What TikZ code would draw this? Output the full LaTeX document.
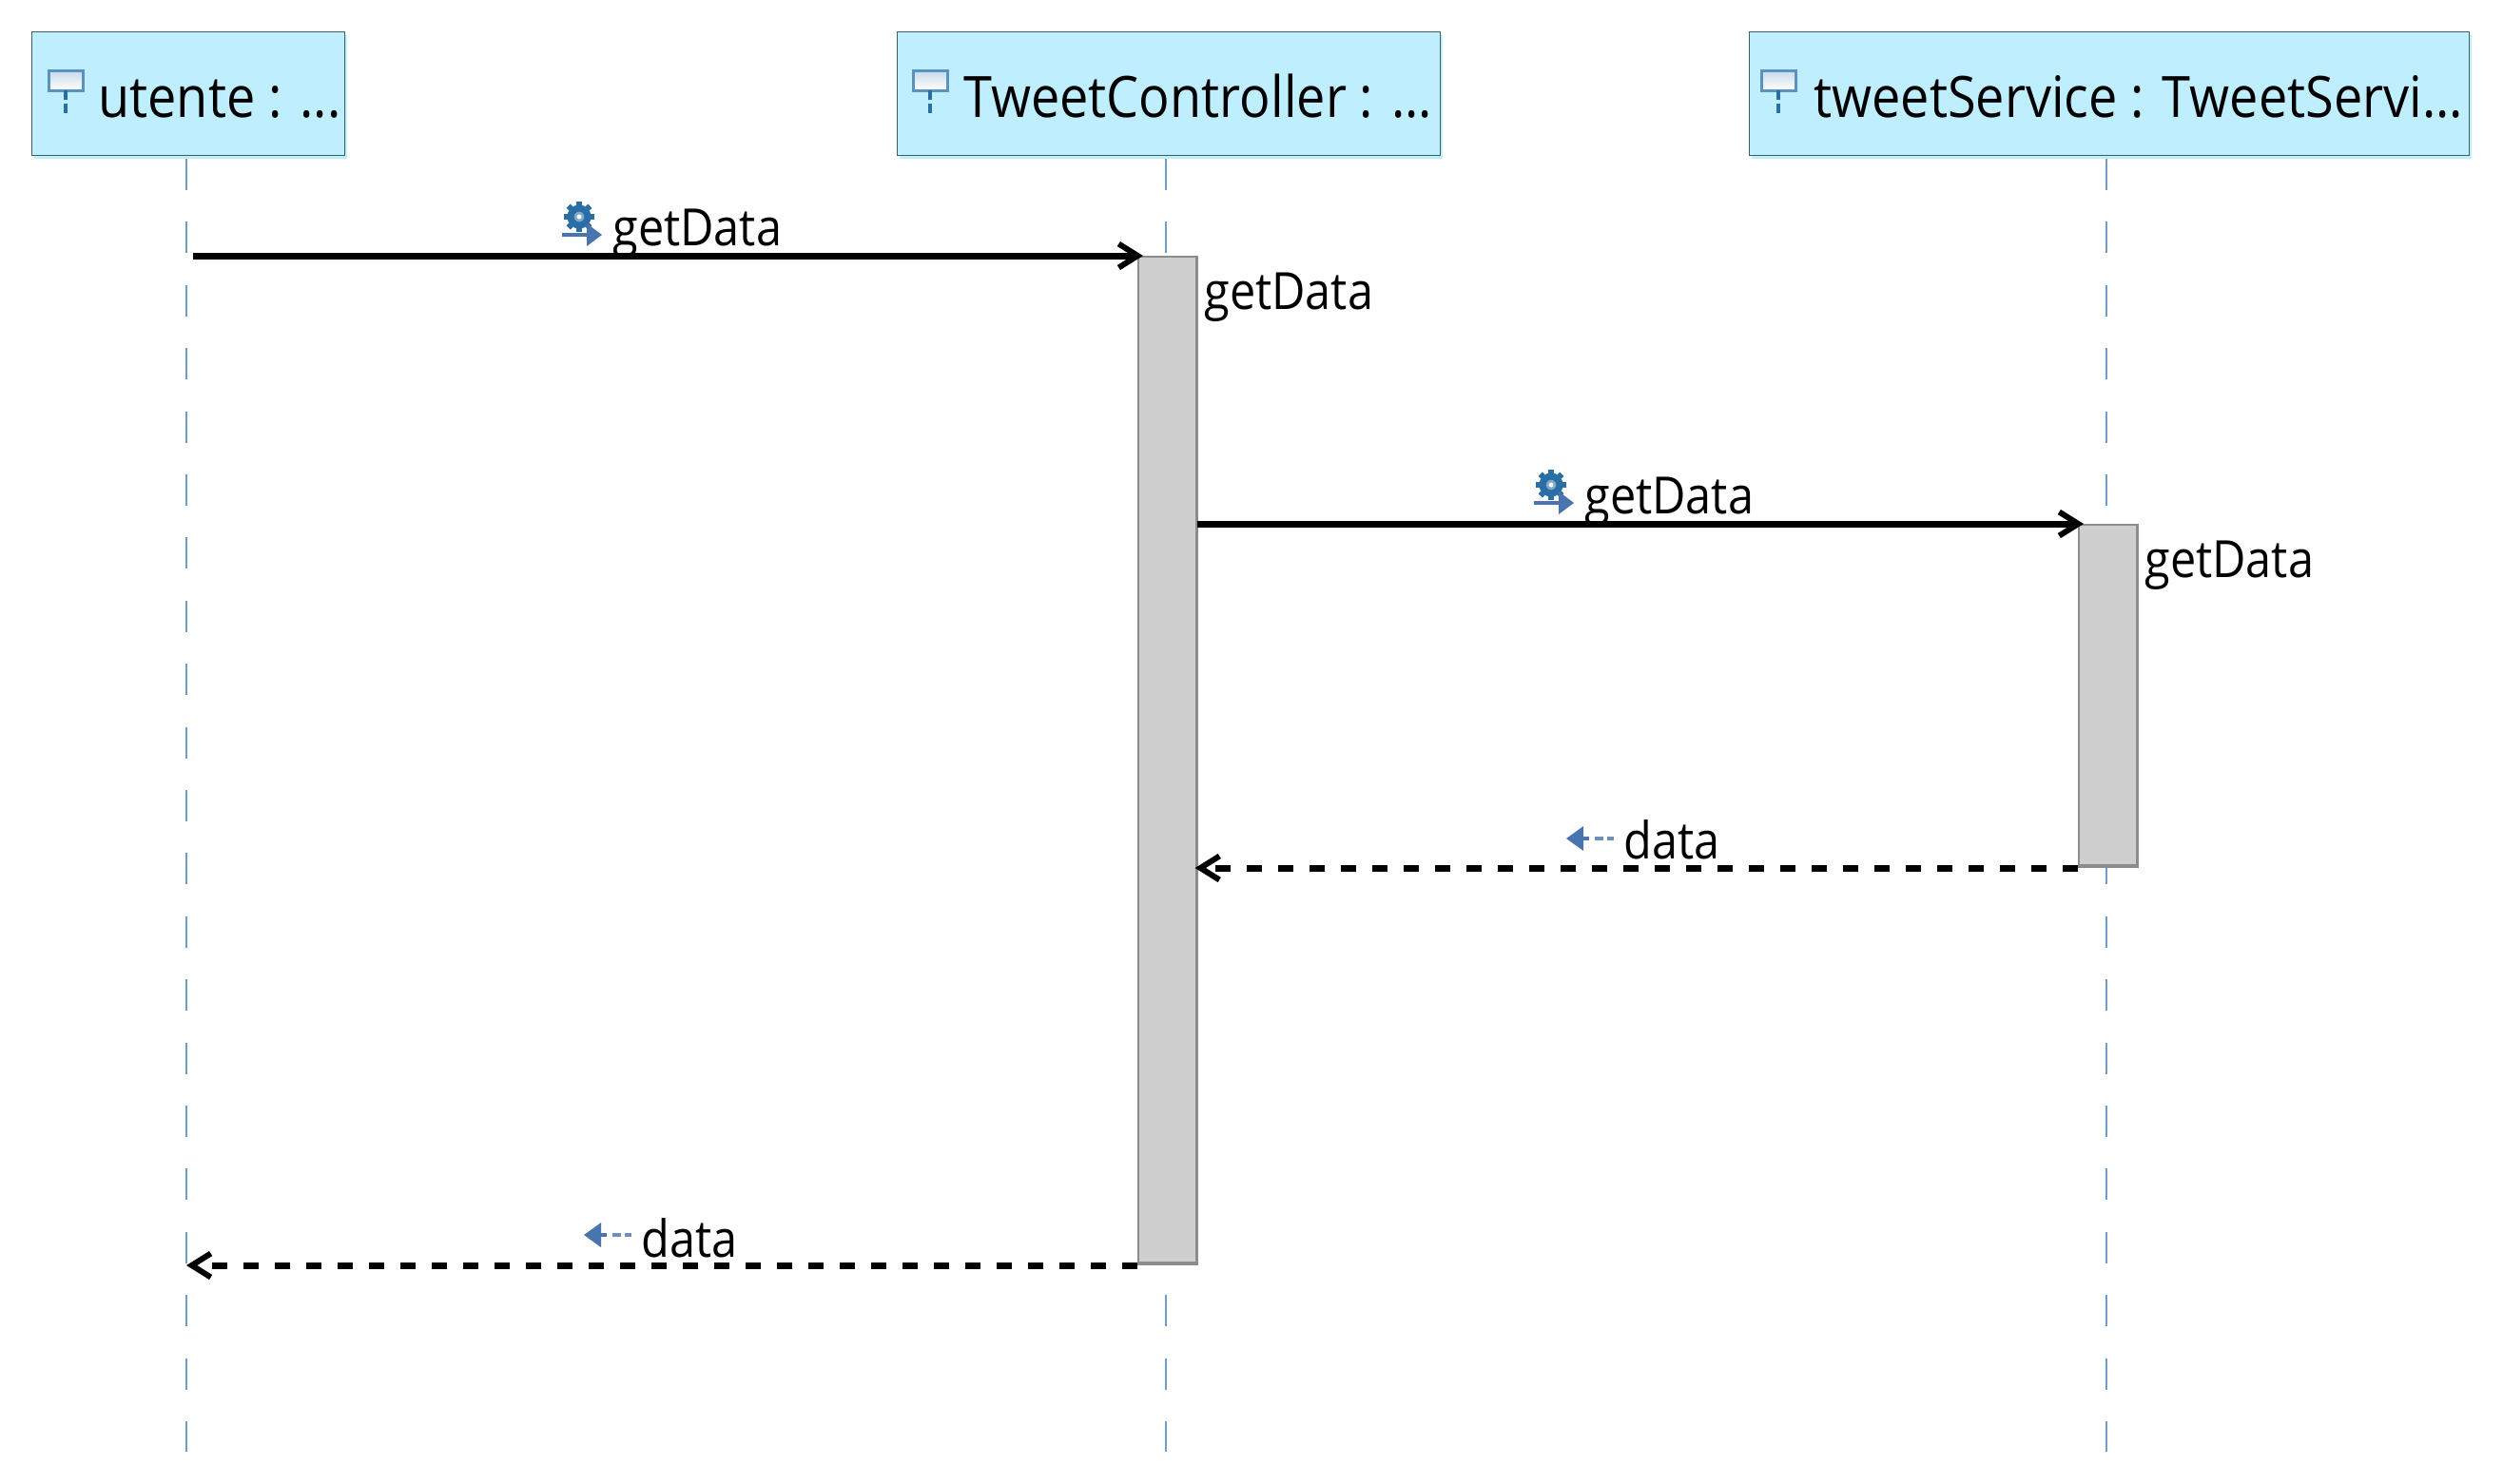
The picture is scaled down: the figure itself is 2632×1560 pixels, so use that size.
\documentclass[tikz,border=0pt]{standalone}
\usepackage{fontspec}
\setmainfont[FakeStretch=0.9]{Open Sans}
\usetikzlibrary{arrows.meta}
\usetikzlibrary{shadows}
\definecolor{headblue}{HTML}{BFEEFF}
\definecolor{headline}{HTML}{3F5F66}
\definecolor{lifeblue}{HTML}{6E9DCB}
\definecolor{actgray}{HTML}{CFCFCF}
\definecolor{actline}{HTML}{8C8C8C}
\definecolor{iconblue}{HTML}{4A74B0}
\definecolor{gearblue}{HTML}{2A6EA6}
\definecolor{iconline}{HTML}{5A93C0}
\tikzset{
  >={Straight Barb[length=10pt,width=12.5pt,line width=3pt]},
  headbox/.style={draw=headline, fill=headblue, line width=0.7pt, anchor=north west, inner sep=0pt,
    drop shadow={shadow xshift=1pt, shadow yshift=-1.5pt, fill=headblue, opacity=1}},
  headtext/.style={anchor=base west, inner sep=0pt, font=\fontsize{30}{30}\selectfont},
  msgtext/.style={anchor=base west, inner sep=0pt, font=\fontsize{27}{27}\selectfont},
  lifeline/.style={draw=lifeblue, line width=1.4pt, dash pattern=on 16.5pt off 16.7pt},
  actbox/.style={draw=actline, fill=actgray, line width=1pt, anchor=north west, inner sep=0pt, minimum width=30.3pt},
  actedge/.style={draw=actline, line width=1.6pt},
  callmsg/.style={line width=3.5pt, ->},
  replymsg/.style={line width=3.5pt, ->, dash pattern=on 8.25pt off 8.25pt},
  pics/headicon/.style={code={
    \draw[draw=iconline, top color=iconline!35!white, bottom color=white, line width=1.5pt] (-18,-48) rectangle (18,-27);
    \draw[draw=gearblue, line width=1.8pt, dash pattern=on 5pt off 2pt] (0,-27) -- (0,0);
  }},
  pics/callicon/.style={code={
    \draw[draw=gearblue, fill=gearblue!60!white, line width=3.5pt] (0,-19) circle (9);
    \fill[white] (0,-19) circle (2.5);
    \foreach \a in {0,45,...,315} {\draw[gearblue, line width=3pt] (\a:12) ++(0,-19) -- ++(\a:4);}
    \draw[iconblue, line width=2pt] (-18,0) -- (10,0);
    \fill[iconblue] (8,-12) -- (24,0) -- (8,12) -- cycle;
  }},
  pics/replyicon/.style={code={
    \fill[iconblue] (0,0) -- (18,-13) -- (18,13) -- cycle;
    \draw[iconblue, line width=2pt] (18,0) -- (24,0);
    \draw[iconblue!80!white, line width=2pt] (30,0) -- (39,0) (43,0) -- (50,0);
  }}
}
\begin{document}
\begin{tikzpicture}[x=0.5pt,y=-0.5pt]
\useasboundingbox (0,0) rectangle (2632,1560);
% lifelines
\coordinate (utenteTop) at (196,167);
\coordinate (utenteEnd) at (196,1527);
\coordinate (ctrlTop) at (1226,167);
\coordinate (ctrlEnd) at (1226,1527);
\coordinate (svcTop) at (2215,167);
\coordinate (svcEnd) at (2215,1527);
\draw[lifeline] (utenteTop) -- (utenteEnd);
\draw[lifeline] (ctrlTop) -- (ctrlEnd);
\draw[lifeline] (svcTop) -- (svcEnd);
% heads
\node[headbox, minimum width=164.5pt, minimum height=65pt] (utenteBox) at (33,33) {};
\node[headbox, minimum width=285.5pt, minimum height=65pt] (ctrlBox) at (943,33) {};
\node[headbox, minimum width=378.5pt, minimum height=65pt] (svcBox) at (1839,33) {};
\pic at (69,122) {headicon};
\pic at (978,122) {headicon};
\pic at (1870,122) {headicon};
\node[headtext] (utenteText) at (103,123) {utente : ...};
\node[headtext] (ctrlText) at (1013,123) {TweetController : ...};
\node[headtext] (svcText) at (1907,123) {tweetService : TweetServi...};
% activations
\node[actbox, minimum height=529pt] (ctrlAct) at (1196,269) {};
\node[actbox, minimum height=179pt] (svcAct) at (2185,551) {};
\foreach \act in {ctrlAct,svcAct}
  \draw[actedge] (\act.north east) -- (\act.south east) -- (\act.south west);
% messages
\draw[callmsg, shorten <=3.5pt, shorten >=-3pt] (utenteTop |- ctrlAct.north west) -- (ctrlAct.north west);
\draw[callmsg, shorten >=-3pt] (ctrlAct.east |- svcAct.north west) -- (svcAct.north west);
\draw[replymsg, shorten >=-1pt] ([yshift=-1pt]svcAct.south west) -- ([yshift=-1pt]svcAct.south west -| ctrlAct.east);
\draw[replymsg] ([yshift=-1pt]ctrlAct.south west) -- ([yshift=-1pt]ctrlAct.south west -| utenteEnd);
% message icons
\pic at (609,247) {callicon};
\pic at (1631,529) {callicon};
\pic at (1647,882) {replyicon};
\pic at (614,1299) {replyicon};
% labels
\node[msgtext] (callOne) at (644,258) {getData};
\node[msgtext] (callTwo) at (1666,540) {getData};
\node[msgtext] (actOne) at (1266,325) {getData};
\node[msgtext] (actTwo) at (2255,607) {getData};
\node[msgtext] (replyOne) at (1707,903) {data};
\node[msgtext] (replyTwo) at (674,1322) {data};
\end{tikzpicture}
\end{document}
